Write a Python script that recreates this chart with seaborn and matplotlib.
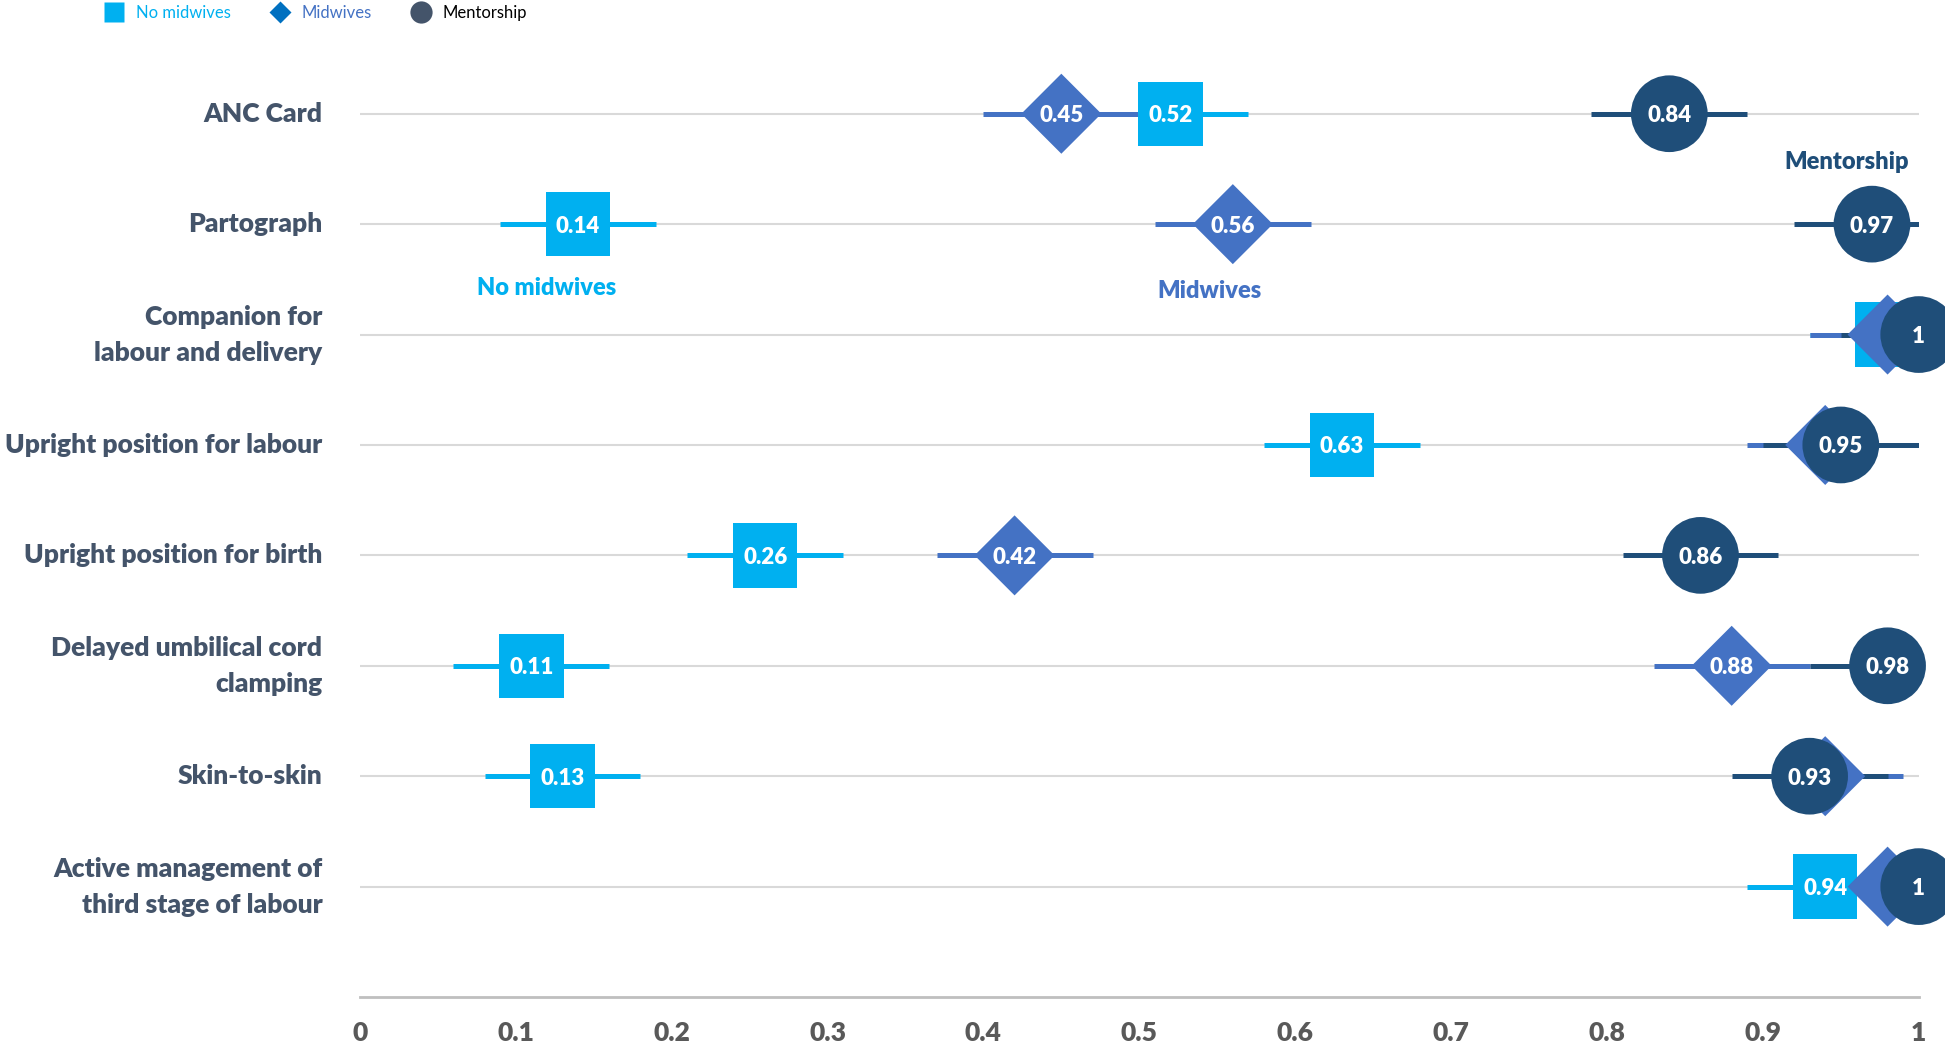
import matplotlib
matplotlib.use("Agg")
import matplotlib.pyplot as plt
from matplotlib.lines import Line2D
import seaborn as sns
import pandas as pd

categories = [
    "ANC Card",
    "Partograph",
    "Companion for\nlabour and delivery",
    "Upright position for labour",
    "Upright position for birth",
    "Delayed umbilical cord\nclamping",
    "Skin-to-skin",
    "Active management of\nthird stage of labour",
]
series_names = ["No midwives", "Midwives", "Mentorship"]

no_midwives = [0.52, 0.14, 0.98, 0.63, 0.26, 0.11, 0.13, 0.94]
no_midwives_low = [0.47, 0.09, 0.93, 0.58, 0.21, 0.06, 0.08, 0.89]
no_midwives_high = [0.57, 0.19, 1.03, 0.68, 0.31, 0.16, 0.18, 0.99]
no_midwives_show = [True, True, False, True, True, True, True, True]

midwives = [0.45, 0.56, 0.98, 0.94, 0.42, 0.88, 0.94, 0.98]
midwives_low = [0.40, 0.51, 0.93, 0.89, 0.37, 0.83, 0.89, 0.93]
midwives_high = [0.50, 0.61, 1.03, 0.99, 0.47, 0.93, 0.99, 1.03]
midwives_show = [True, True, False, False, True, True, False, False]

mentorship = [0.84, 0.97, 1.00, 0.95, 0.86, 0.98, 0.93, 1.00]
mentorship_low = [0.79, 0.92, 0.95, 0.90, 0.81, 0.93, 0.88, 0.95]
mentorship_high = [0.89, 1.02, 1.05, 1.00, 0.91, 1.03, 0.98, 1.05]
mentorship_show = [True, True, True, True, True, True, True, True]

x_ticks = [0, 0.1, 0.2, 0.3, 0.4, 0.5, 0.6, 0.7, 0.8, 0.9, 1]
x_tick_labels = ["0", "0.1", "0.2", "0.3", "0.4", "0.5", "0.6", "0.7", "0.8", "0.9", "1"]

colors = {"No midwives": "#00B0F0", "Midwives": "#4472C4", "Mentorship": "#1F4E79"}
markers = {"No midwives": "s", "Midwives": "D", "Mentorship": "o"}
sizes = {"No midwives": 2150, "Midwives": 1660, "Mentorship": 3050}

values = {"No midwives": no_midwives, "Midwives": midwives, "Mentorship": mentorship}
lows = {"No midwives": no_midwives_low, "Midwives": midwives_low, "Mentorship": mentorship_low}
highs = {"No midwives": no_midwives_high, "Midwives": midwives_high, "Mentorship": mentorship_high}
shows = {"No midwives": no_midwives_show, "Midwives": midwives_show, "Mentorship": mentorship_show}

rows = []
for s in series_names:
    for i, c in enumerate(categories):
        rows.append({"series": s, "category": c, "pos": i, "value": values[s][i],
                     "low": lows[s][i], "high": highs[s][i], "show": shows[s][i]})
df = pd.DataFrame(rows)

sns.set_theme(style="white")
plt.rcParams["font.family"] = ["Lato", "DejaVu Sans"]
W = "heavy"

fig = plt.figure(figsize=(19.45, 10.61), dpi=100)
ax = fig.add_axes([0.185, 0.0603, 0.8015, 0.9397])

# error bars first
for s in series_names:
    d = df[df.series == s]
    ax.hlines(d["pos"], d["low"], d["high"], color=colors[s], lw=3.6, zorder=2)

# markers and value labels, series by series
for k, s in enumerate(series_names):
    d = df[df.series == s]
    sns.scatterplot(data=d, x="value", y="pos", marker=markers[s], s=sizes[s],
                    color=colors[s], edgecolor="none", linewidth=0, ax=ax,
                    zorder=3 + 2 * k, clip_on=False, legend=False)
    for _, r in d.iterrows():
        if r["show"]:
            txt = f"{r['value']:.2f}" if r["value"] < 1 else "1"
            ax.text(r["value"], r["pos"], txt, ha="center", va="center_baseline",
                    color="white", fontsize=16, fontweight=W, zorder=4 + 2 * k,
                    clip_on=False)

# series annotations
ax.text(0.12, 1.58, "No midwives", color=colors["No midwives"], fontsize=17,
        fontweight=W, ha="center", va="center")
ax.text(0.545, 1.61, "Midwives", color=colors["Midwives"], fontsize=17,
        fontweight=W, ha="center", va="center")
ax.text(0.954, 0.44, "Mentorship", color=colors["Mentorship"], fontsize=17,
        fontweight=W, ha="center", va="center")

ax.set_xlim(0, 1)
ax.set_ylim(8, -1.03)
ax.set_yticks(range(len(categories)))
ax.set_yticklabels(categories, fontsize=19, fontweight=W, color="#44546A",
                   linespacing=1.6)
for lab in ax.get_yticklabels():
    lab.set_verticalalignment("center")
ax.set_xticks(x_ticks)
ax.set_xticklabels(x_tick_labels, fontsize=19, fontweight=W, color="#595959")
ax.tick_params(axis="both", length=0)
ax.tick_params(axis="y", pad=27)
ax.tick_params(axis="x", pad=17)
ax.grid(axis="y", color="#D9D9D9", lw=1.5)
ax.grid(axis="x", visible=False)
ax.set_axisbelow(True)
ax.set_xlabel("")
ax.set_ylabel("")
for sp in ["top", "right", "left"]:
    ax.spines[sp].set_visible(False)
ax.spines["bottom"].set_color("#BFBFBF")
ax.spines["bottom"].set_linewidth(2)

handles = [
    Line2D([], [], ls="none", marker="s", ms=14, color="#00B0F0", mec="none"),
    Line2D([], [], ls="none", marker="D", ms=11, color="#0070C0", mec="none"),
    Line2D([], [], ls="none", marker="o", ms=16, color="#44546A", mec="none"),
]
fig.legend(handles, series_names, loc="center left", bbox_to_anchor=(0.05, 0.9875),
           ncol=3, frameon=False, fontsize=12, handletextpad=0.3,
           columnspacing=1.95, labelcolor=["#00B0F0", "#4472C4", "black"],
           borderaxespad=0, borderpad=0)

fig.savefig("out.png", dpi=100)
